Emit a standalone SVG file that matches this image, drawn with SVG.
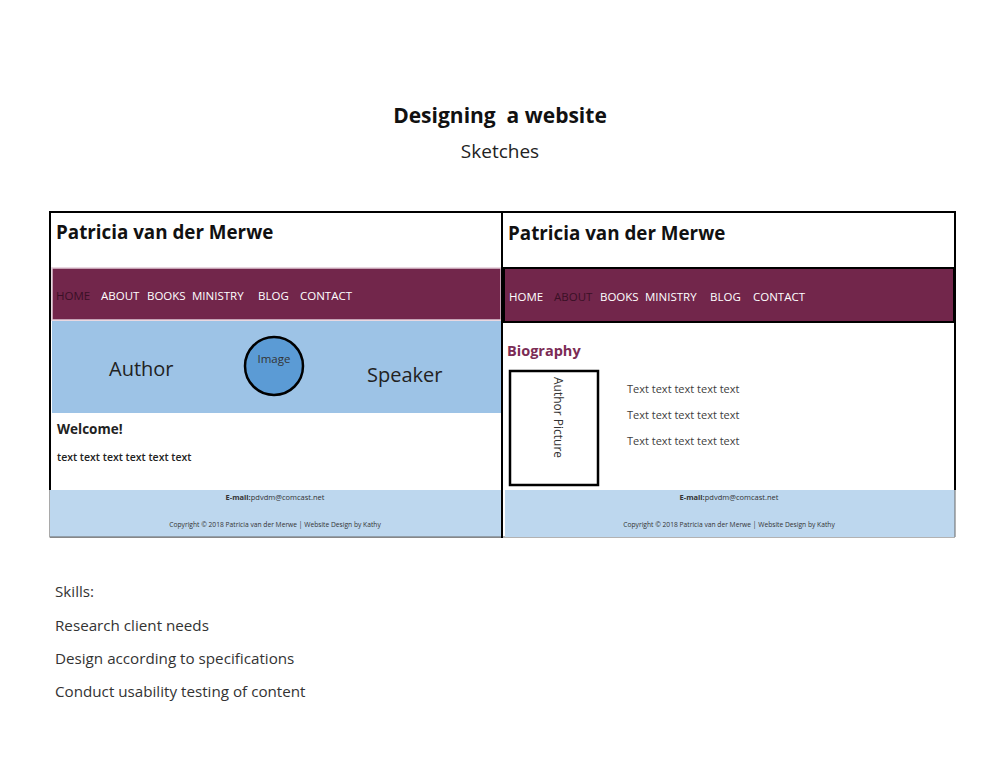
<svg xmlns="http://www.w3.org/2000/svg" width="1000" height="773" viewBox="0 0 1000 773">
<style>
text{font-family:"Open Sans","Noto Sans","Liberation Sans",sans-serif}
.nav{fill:#ffffff;font-size:11.5px}
.navsel{fill:#3a1026;font-size:11.5px}
.name{font-size:18.8px;font-weight:bold;fill:#111}
.foot1{font-size:7.5px;fill:#333;text-anchor:middle}
.foot2{font-size:6.7px;fill:#333;text-anchor:middle}
.skill{font-size:15.2px;fill:#333}
.bio{font-size:11px;fill:#404040}
</style>
<rect width="1000" height="773" fill="#ffffff"/>
<g id="title">
<text x="500" y="123" text-anchor="middle" font-size="21" font-weight="bold" fill="#111" xml:space="preserve">Designing  a website</text>
<text x="500" y="158" text-anchor="middle" font-size="19" fill="#222">Sketches</text>
</g>
<g id="left-sketch">
<rect x="50" y="212" width="452" height="325" fill="#ffffff" stroke="#555" stroke-width="1"/>
<text x="56" y="239" class="name">Patricia van der Merwe</text>
<rect x="52" y="268" width="449" height="52" fill="#72264b" stroke="#e2ccd8" stroke-width="1.5"/>
<text x="56" y="300" class="navsel">HOME</text>
<text x="101" y="300" class="nav">ABOUT</text>
<text x="147" y="300" class="nav">BOOKS</text>
<text x="192" y="300" class="nav">MINISTRY</text>
<text x="258" y="300" class="nav">BLOG</text>
<text x="300" y="300" class="nav">CONTACT</text>
<rect x="52" y="321" width="449" height="92" fill="#9dc3e6"/>
<text x="109" y="376" font-size="20" fill="#222">Author</text>
<circle cx="274" cy="366" r="29" fill="#5b9bd5" stroke="#000" stroke-width="2.5"/>
<text x="274" y="363" text-anchor="middle" font-size="11.5" fill="#333">Image</text>
<text x="367" y="382" font-size="20" fill="#222">Speaker</text>
<text x="57" y="434" font-size="13.5" font-weight="bold" fill="#222">Welcome!</text>
<text x="57" y="461" font-size="10.5" font-weight="600" fill="#222">text text text text text text</text>
<rect x="50" y="490" width="452" height="47" fill="#bdd7ee"/>
<text x="275" y="500" class="foot1"><tspan font-weight="bold">E-mail:</tspan>pdvdm@comcast.net</text>
<text x="275" y="527" class="foot2">Copyright © 2018 Patricia van der Merwe | Website Design by Kathy</text>
<line x1="50" y1="212" x2="50" y2="490" stroke="#000" stroke-width="2"/>
<line x1="49" y1="212" x2="955" y2="212" stroke="#000" stroke-width="2"/>
<line x1="50" y1="537" x2="955" y2="537" stroke="#666" stroke-width="1"/>
</g>
<g id="right-sketch">
<text x="508" y="240" class="name">Patricia van der Merwe</text>
<rect x="504" y="268" width="450" height="54" fill="#72264b" stroke="#000" stroke-width="2"/>
<text x="509" y="301" class="nav">HOME</text>
<text x="554" y="301" class="navsel">ABOUT</text>
<text x="600" y="301" class="nav">BOOKS</text>
<text x="645" y="301" class="nav">MINISTRY</text>
<text x="710" y="301" class="nav">BLOG</text>
<text x="753" y="301" class="nav">CONTACT</text>
<text x="507" y="356" font-size="14.5" font-weight="bold" fill="#7b2c55">Biography</text>
<rect x="510" y="371" width="88" height="114" fill="#ffffff" stroke="#000" stroke-width="2.5"/>
<text transform="translate(554,377) rotate(90)" font-size="12" fill="#333">Author Picture</text>
<text x="627" y="393" class="bio">Text text text text text</text>
<text x="627" y="419" class="bio">Text text text text text</text>
<text x="627" y="445" class="bio">Text text text text text</text>
<rect x="505" y="490" width="450" height="47" fill="#bdd7ee"/>
<text x="729" y="500" class="foot1"><tspan font-weight="bold">E-mail:</tspan>pdvdm@comcast.net</text>
<text x="729" y="527" class="foot2">Copyright © 2018 Patricia van der Merwe | Website Design by Kathy</text>
<line x1="502" y1="211" x2="502" y2="538" stroke="#000" stroke-width="2"/>
<line x1="955" y1="211" x2="955" y2="490" stroke="#000" stroke-width="2"/>
<line x1="955" y1="490" x2="955" y2="537" stroke="#666" stroke-width="1"/>
</g>
<g id="skills">
<text x="55" y="597" class="skill">Skills:</text>
<text x="55" y="631" class="skill">Research client needs</text>
<text x="55" y="664" class="skill">Design according to specifications</text>
<text x="55" y="697" class="skill">Conduct usability testing of content</text>
</g>
</svg>
